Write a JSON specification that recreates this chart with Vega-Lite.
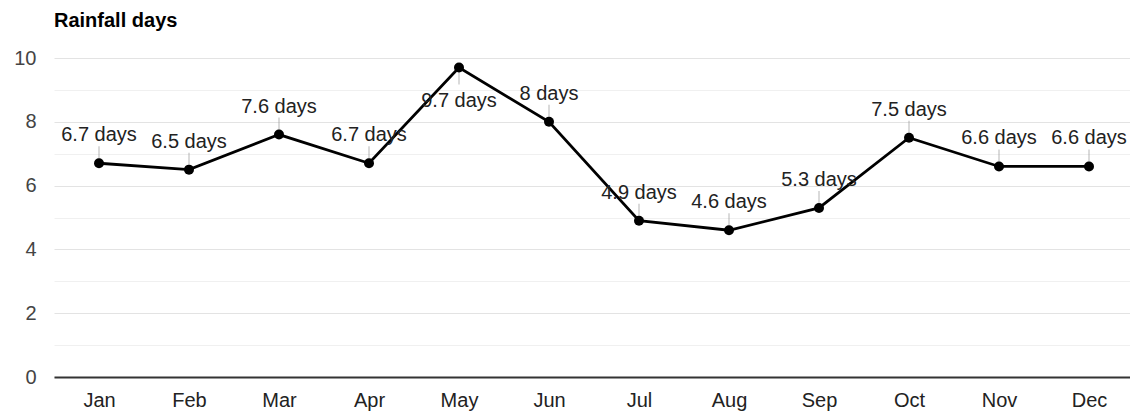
{
  "$schema": "https://vega.github.io/schema/vega-lite/v6.json",
  "autosize": "none",
  "width": 1080,
  "height": 319,
  "padding": {"left": 54, "top": 58, "right": 0, "bottom": 35},
  "background": "white",
  "title": {
    "text": "Rainfall days",
    "anchor": "start",
    "frame": "group",
    "offset": 17,
    "font": "Liberation Sans",
    "fontSize": 20,
    "fontWeight": "bold",
    "color": "#000"
  },
  "config": {
    "view": {"stroke": null},
    "font": "Liberation Sans"
  },
  "data": {
    "values": [
      {"month": "Jan", "days": 6.7, "label": "6.7 days", "side": "above"},
      {"month": "Feb", "days": 6.5, "label": "6.5 days", "side": "above"},
      {"month": "Mar", "days": 7.6, "label": "7.6 days", "side": "above"},
      {"month": "Apr", "days": 6.7, "label": "6.7 days", "side": "above"},
      {"month": "May", "days": 9.7, "label": "9.7 days", "side": "below"},
      {"month": "Jun", "days": 8, "label": "8 days", "side": "above"},
      {"month": "Jul", "days": 4.9, "label": "4.9 days", "side": "above"},
      {"month": "Aug", "days": 4.6, "label": "4.6 days", "side": "above"},
      {"month": "Sep", "days": 5.3, "label": "5.3 days", "side": "above"},
      {"month": "Oct", "days": 7.5, "label": "7.5 days", "side": "above"},
      {"month": "Nov", "days": 6.6, "label": "6.6 days", "side": "above"},
      {"month": "Dec", "days": 6.6, "label": "6.6 days", "side": "above"}
    ]
  },
  "encoding": {
    "x": {
      "field": "month",
      "type": "ordinal",
      "sort": null,
      "scale": {"type": "point", "padding": 0.5},
      "axis": {
        "title": null,
        "labelAngle": 0,
        "ticks": false,
        "domainColor": "#333",
        "domainWidth": 2,
        "labelFontSize": 20,
        "labelColor": "#222",
        "labelPadding": 13,
        "labelBaseline": "top",
        "grid": false
      }
    },
    "y": {
      "field": "days",
      "type": "quantitative",
      "scale": {"domain": [0, 10], "nice": false, "zero": true},
      "axis": {
        "title": null,
        "values": [0, 1, 2, 3, 4, 5, 6, 7, 8, 9, 10],
        "labelExpr": "datum.value % 2 ? '' : datum.label",
        "ticks": false,
        "domain": false,
        "grid": true,
        "gridColor": {"condition": {"test": "datum.value % 2 === 1", "value": "#f0f0f0"}, "value": "#e3e3e3"},
        "labelFontSize": 20,
        "labelColor": "#444",
        "labelPadding": 18
      }
    }
  },
  "layer": [
    {"mark": {"type": "line", "color": "#000", "strokeWidth": 2.8}},
    {
      "transform": [{"filter": "datum.side === 'above'"}],
      "mark": {"type": "tick", "orient": "vertical", "size": 16, "yOffset": -9, "thickness": 1, "color": "#999"}
    },
    {
      "transform": [{"filter": "datum.side === 'below'"}],
      "mark": {"type": "tick", "orient": "vertical", "size": 16, "yOffset": 9, "thickness": 1, "color": "#999"}
    },
    {"mark": {"type": "point", "filled": true, "color": "#000", "size": 100, "opacity": 1}},
    {
      "transform": [{"filter": "datum.side === 'above'"}],
      "mark": {"type": "text", "baseline": "alphabetic", "dy": -22, "fontSize": 20, "color": "#222", "align": "center"},
      "encoding": {"text": {"field": "label"}}
    },
    {
      "transform": [{"filter": "datum.side === 'below'"}],
      "mark": {"type": "text", "baseline": "alphabetic", "dy": 39, "fontSize": 20, "color": "#222", "align": "center"},
      "encoding": {"text": {"field": "label"}}
    }
  ]
}
